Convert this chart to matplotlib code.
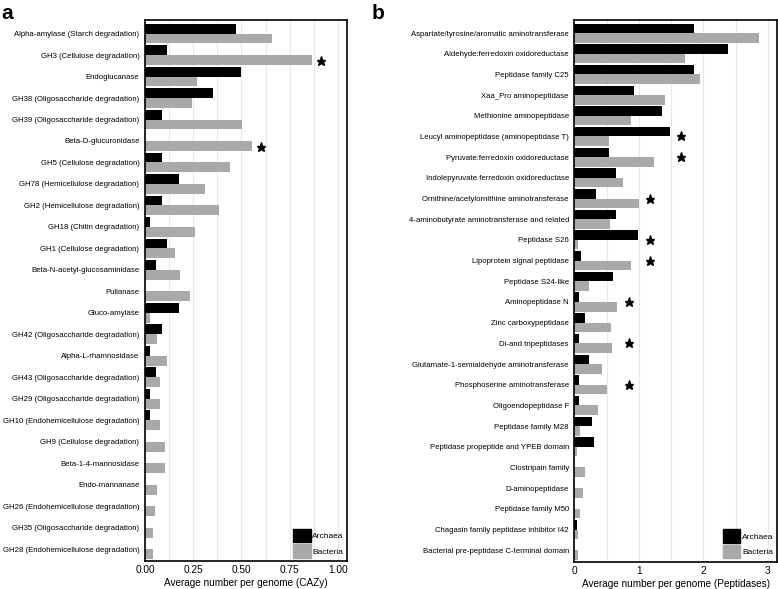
import numpy as np
import matplotlib
matplotlib.use('Agg')
from matplotlib import pyplot as plt
from matplotlib.patches import Patch

plt.rcParams['font.family'] = ['Liberation Sans', 'DejaVu Sans']

# panel a: CAZy
cazy_labels = [
    'Alpha-amylase (Starch degradation)', 'GH3 (Cellulose degradation)', 'Endoglucanase',
    'GH38 (Oligosaccharide degradation)', 'GH39 (Oligosaccharide degradation)', 'Beta-D-glucuronidase',
    'GH5 (Cellulose degradation)', 'GH78 (Hemicellulose degradation)', 'GH2 (Hemicellulose degradation)',
    'GH18 (Chitin degradation)', 'GH1 (Cellulose degradation)', 'Beta-N-acetyl-glucosaminidase',
    'Pullanase', 'Gluco-amylase', 'GH42 (Oligosaccharide degradation)', 'Alpha-L-rhamnosidase',
    'GH43 (Oligosaccharide degradation)', 'GH29 (Oligosaccharide degradation)',
    'GH10 (Endohemicellulose degradation)', 'GH9 (Cellulose degradation)', 'Beta-1-4-mannosidase',
    'Endo-mannanase', 'GH26 (Endohemicellulose degradation)', 'GH35 (Oligosaccharide degradation)',
    'GH28 (Endohemicellulose degradation)',
]
cazy_archaea = [0.47, 0.115, 0.498, 0.35, 0.086, 0.0, 0.086, 0.176, 0.086, 0.028, 0.115, 0.057,
                0.0, 0.176, 0.086, 0.028, 0.057, 0.028, 0.028, 0.0, 0.0, 0.0, 0.0, 0.0, 0.0]
cazy_bacteria = [0.66, 0.867, 0.27, 0.245, 0.503, 0.557, 0.44, 0.309, 0.386, 0.259, 0.155, 0.181,
                 0.233, 0.026, 0.064, 0.115, 0.078, 0.078, 0.078, 0.103, 0.103, 0.064, 0.052, 0.04, 0.04]
cazy_star_rows = [1, 5]
cazy_star_x = [0.914, 0.60]

# panel b: peptidases
pep_labels = [
    'Aspartate/tyrosine/aromatic aminotransferase', 'Aldehyde:ferredoxin oxidoreductase',
    'Peptidase family C25', 'Xaa_Pro aminopeptidase', 'Methionine aminopeptidase',
    'Leucyl aminopeptidase (aminopeptidase T)', 'Pyruvate:ferredoxin oxidoreductase',
    'Indolepyruvate ferredoxin oxidoreductase', 'Ornithine/acetylornithine aminotransferase',
    '4-aminobutyrate aminotransferase and related', 'Peptidase S26', 'Lipoprotein signal peptidase',
    'Peptidase S24-like', 'Aminopeptidase N', 'Zinc carboxypeptidase', 'Di-and tripeptidases',
    'Glutamate-1-semialdehyde aminotransferase', 'Phosphoserine aminotransferase',
    'Oligoendopeptidase F', 'Peptidase family M28', 'Peptidase propeptide and YPEB domain',
    'Clostripain family', 'D-aminopeptidase', 'Peptidase family M50',
    'Chagasin family peptidase inhibitor I42', 'Bacterial pre-peptidase C-terminal domain',
]
pep_archaea = [1.86, 2.39, 1.86, 0.92, 1.36, 1.48, 0.54, 0.65, 0.34, 0.65, 0.98, 0.10, 0.60,
               0.07, 0.16, 0.07, 0.22, 0.07, 0.07, 0.27, 0.31, 0.0, 0.0, 0.0, 0.04, 0.0]
pep_bacteria = [2.87, 1.71, 1.95, 1.41, 0.88, 0.53, 1.23, 0.75, 0.995, 0.55, 0.05, 0.88, 0.23,
                0.66, 0.56, 0.59, 0.42, 0.51, 0.37, 0.08, 0.04, 0.17, 0.14, 0.09, 0.05, 0.06]
pep_star_rows = [5, 6, 8, 10, 11, 13, 15, 17]
pep_star_x = [1.65, 1.65, 1.17, 1.17, 1.17, 0.84, 0.84, 0.84]

ARCH = '#000000'
BACT = '#a9a9a9'
BAR_H = 0.46


def draw_panel(ax, labels, archaea, bacteria, star_rows, star_x, star_dy, xlim, major, minor, xlabel, fmt):
    y = np.arange(len(labels))
    ax.barh(y - BAR_H / 2, archaea, height=BAR_H, color=ARCH, zorder=2)
    ax.barh(y + BAR_H / 2, bacteria, height=BAR_H, color=BACT, zorder=2)
    ax.plot(star_x, np.array(star_rows) + star_dy, ls='none', marker='*', ms=6.5, color='black', zorder=3)
    ax.set_yticks(y)
    ax.set_yticklabels(labels, fontsize=5.6)
    ax.set_ylim(len(labels) - 0.45, -0.63)
    ax.set_xlim(*xlim)
    ax.set_xticks(major)
    ax.set_xticklabels([fmt.format(v) for v in major], fontsize=7.3)
    ax.set_xticks(minor, minor=True)
    ax.grid(axis='x', which='both', color='#e8e8e8', lw=0.8, zorder=0)
    ax.tick_params(axis='both', which='both', length=0, pad=4)
    ax.tick_params(axis='x', pad=3)
    for s in ax.spines.values():
        s.set_linewidth(1.2)
    ax.set_xlabel(xlabel, fontsize=7.2, labelpad=2)
    handles = [Patch(color=ARCH, label='Archaea'), Patch(color=BACT, label='Bacteria')]
    ax.legend(handles=handles, loc='lower right', frameon=False, fontsize=6.0,
              handlelength=2.1, handleheight=2.1, labelspacing=0.25, handletextpad=0.2,
              borderaxespad=0.2, borderpad=0.2)


fig = plt.figure(figsize=(7.78, 5.89), dpi=100)
ax_a = fig.add_axes([0.1864, 0.0475, 0.2596, 0.9185])
ax_b = fig.add_axes([0.7384, 0.0465, 0.2600, 0.9195])

draw_panel(ax_a, cazy_labels, cazy_archaea, cazy_bacteria, cazy_star_rows, cazy_star_x, 0.3,
           (0, 1.047), [0, 0.25, 0.5, 0.75, 1.0], np.arange(0.125, 1.0, 0.25),
           'Average number per genome (CAZy)', '{:.2f}')
draw_panel(ax_b, pep_labels, pep_archaea, pep_bacteria, pep_star_rows, pep_star_x, 0.0,
           (0, 3.14), [0, 1, 2, 3], np.arange(0.5, 3.1, 1.0),
           'Average number per genome (Peptidases)', '{:.0f}')

fig.text(0.002, 0.993, 'a', fontsize=15, fontweight='bold', va='top', ha='left')
fig.text(0.478, 0.993, 'b', fontsize=15, fontweight='bold', va='top', ha='left')

fig.savefig('out.png', dpi=100)
